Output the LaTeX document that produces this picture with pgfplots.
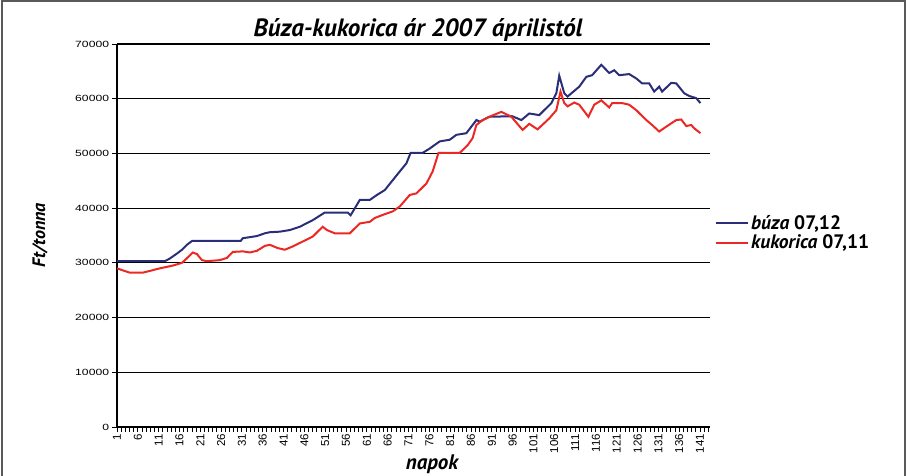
\documentclass[border=0pt]{standalone}
\usepackage{pgfplots}
\pgfplotsset{compat=1.18}
\usepackage{fontspec}
\setmainfont{Liberation Sans}
\newfontfamily\ptsans{PT Sans}
\definecolor{buza}{RGB}{42,45,120}
\definecolor{kuk}{RGB}{235,40,35}
\begin{document}
\begin{tikzpicture}[x=1pt,y=1pt]
\useasboundingbox (0,0) rectangle (906,476);
\draw[gray!70!black, line width=2pt] (1.5,-5) -- (1.5,474.5) -- (904.5,474.5) -- (904.5,-5);
\begin{axis}[
  at={(117pt,49pt)}, anchor=south west,
  scale only axis, width=593pt, height=383pt,
  xmin=1, xmax=143.4, ymin=0, ymax=70000,
  axis x line=bottom, axis y line=left,
  axis line style={-, line width=1.3pt, black},
  ytick={0,10000,...,70000},
  xtick={1,6,...,141},
  minor xtick={1,...,143},
  tick align=outside,
  major tick length=5pt, minor tick length=5pt,
  tick style={black, line width=0.9pt},
  ymajorgrids, major grid style={black, line width=1.2pt},
  scaled y ticks=false,
  /pgf/number format/assume math mode=true,
  yticklabel style={/pgf/number format/1000 sep={}, font=\fontsize{9}{10}\selectfont, xscale=1.35, inner sep=2pt},
  xticklabel style={rotate=90, anchor=east, font=\fontsize{11.5}{13}\selectfont, inner sep=2pt},
  legend style={at={(1.0,0.507)}, anchor=west, draw=none, fill=none,
    font=\ptsans\bfseries\fontsize{19.5}{22}\selectfont, row sep=0pt, inner xsep=5pt},
  legend cell align=left,
  legend image code/.code={\draw[#1, line width=2pt] (0pt,0pt) -- (32pt,0pt);},
  clip=false,
]
\addplot[buza, line width=2pt] coordinates {
(1,30300) (12.5,30300) (13.7,30800) (15.4,31700) (16.6,32400) (17.8,33300) (19.0,34000)
(30.7,34000) (31.2,34500) (34.6,34900) (36.5,35400) (37.7,35600) (40.1,35700) (42.5,36000)
(44.9,36600) (48.0,37800) (50.9,39200) (56.4,39200) (57.1,38700) (58.6,40600) (59.3,41500)
(61.7,41500) (63.4,42400) (65.3,43300) (67.2,45100) (68.9,46700) (70.5,48200) (71.5,50100)
(74.4,50100) (76.1,50900) (78.5,52200) (80.9,52500) (82.5,53400) (84.9,53700) (87.3,56100)
(88.1,55800) (90.4,56700) (95.9,56800) (98.1,56100) (100.0,57300) (102.4,57000) (105.3,59200)
(106.5,61000) (107.2,64200) (108.4,61000) (109.2,60400) (112.0,62200) (113.7,64000) (115.1,64300)
(117.3,66200) (119.2,64700) (120.4,65200) (121.6,64300) (124.0,64500) (125.7,63700) (127.1,62800)
(128.8,62800) (130.0,61300) (131.2,62200) (131.9,61300) (134.1,62900) (135.3,62800) (137.2,61000)
(138.4,60500) (140.1,60100) (141.1,59200)
};
\addlegendentry{{\itshape búza} 07,12}
\addplot[kuk, line width=2pt] coordinates {
(1,29000) (2.9,28500) (4.1,28200) (7.2,28200) (11.3,29000) (14.4,29500) (16.6,30000) (18.0,31000)
(19.2,31900) (20.2,31600) (21.4,30500) (22.6,30300) (25.7,30500) (27.4,30900) (28.8,32000)
(31.2,32100) (32.9,31900) (34.6,32200) (36.5,33100) (37.7,33300) (39.6,32700) (41.3,32400)
(43.2,33000) (45.6,33900) (48.0,34800) (50.4,36600) (51.4,36000) (53.3,35400) (56.9,35400)
(59.3,37200) (61.7,37500) (62.9,38200) (65.3,38900) (67.2,39400) (68.9,40300) (71.3,42400)
(72.9,42700) (75.3,44500) (76.8,46700) (78.2,50100) (83.3,50100) (85.2,51500) (86.4,52800)
(87.3,55200) (88.8,56100) (90.4,56700) (93.3,57600) (95.7,56700) (98.4,54300) (100.0,55400)
(102.0,54400) (104.8,56400) (106.5,57900) (107.5,61300) (108.4,59200) (109.2,58600) (110.8,59300)
(112.0,58900) (114.2,56700) (115.6,58900) (117.3,59700) (119.2,58400) (119.9,59200) (122.3,59200)
(124.0,58900) (125.7,57900) (128.1,56100) (129.5,55200) (131.2,54000) (132.9,54900) (135.3,56100)
(136.5,56200) (137.7,55000) (138.9,55200) (139.6,54600) (141.1,53700)
};
\addlegendentry{{\itshape kukorica} 07,11}
\end{axis}
\node at (418,446) {\ptsans\bfseries\itshape\fontsize{25}{28}\selectfont Búza-kukorica ár 2007 áprilistól};
\node[rotate=90] at (40,241) {\ptsans\bfseries\itshape\fontsize{18}{20}\selectfont Ft/tonna};
\node at (432,12) {\ptsans\bfseries\itshape\fontsize{21}{23}\selectfont napok};
\end{tikzpicture}
\end{document}
